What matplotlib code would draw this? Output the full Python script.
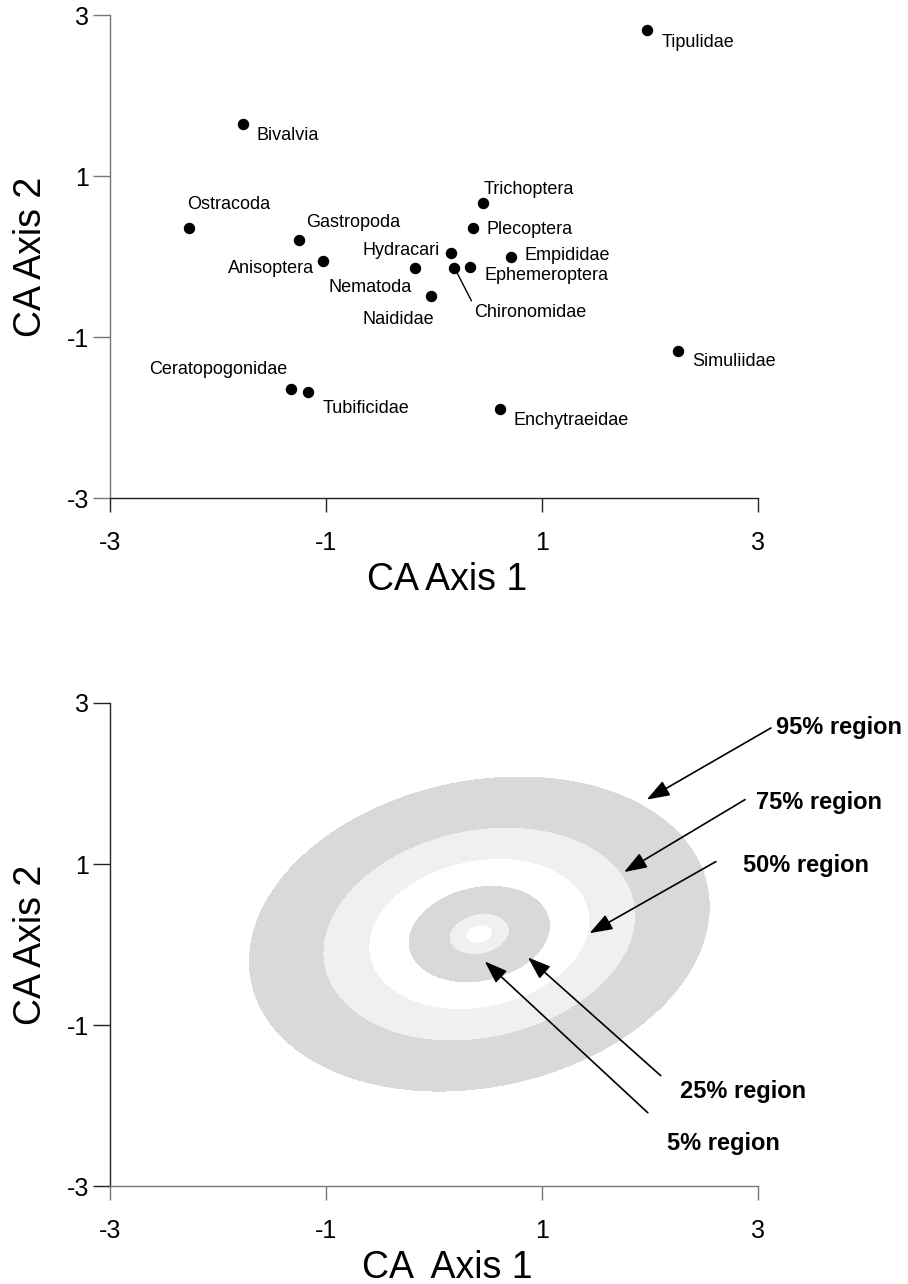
import matplotlib
matplotlib.use("Agg")
import matplotlib.pyplot as plt
import numpy as np

plt.rcParams["font.family"] = ["Liberation Sans", "DejaVu Sans"]
plt.rcParams["axes.unicode_minus"] = False

# taxon scores on the first two CA axes
taxa = ["Tipulidae", "Bivalvia", "Ostracoda", "Gastropoda", "Anisoptera",
        "Hydracari", "Nematoda", "Naididae", "Trichoptera", "Plecoptera",
        "Empididae", "Ephemeroptera", "Chironomidae", "Ceratopogonidae",
        "Tubificidae", "Enchytraeidae", "Simuliidae"]
axis1 = [1.97, -1.77, -2.27, -1.25, -1.03, 0.16, -0.18, -0.03, 0.45, 0.36,
         0.71, 0.33, 0.19, -1.32, -1.17, 0.61, 2.26]
axis2 = [2.81, 1.65, 0.35, 0.21, -0.05, 0.05, -0.14, -0.49, 0.66, 0.36,
         0.00, -0.13, -0.14, -1.65, -1.68, -1.89, -1.17]

ticks = [-3, -1, 1, 3]
tick_labels = ["-3", "-1", "1", "3"]

# bivariate normal used for the nested probability regions
centre = [0.42, 0.13]
cov = [[0.756, 0.1205], [0.1205, 0.635]]
coverage = [0.01, 0.05, 0.25, 0.50, 0.75, 0.95]

region_names = ["95% region", "75% region", "50% region", "25% region", "5% region"]
region_text_x = [3.17, 2.98, 2.86, 2.28, 2.16]
region_text_y = [2.69, 1.77, 0.98, -1.82, -2.47]
arrow_tail_x = [3.12, 2.88, 2.61, 2.10, 1.98]
arrow_tail_y = [2.69, 1.80, 1.03, -1.63, -2.09]
arrow_tip_x = [1.97, 1.76, 1.44, 0.87, 0.47]
arrow_tip_y = [1.80, 0.90, 0.14, -0.16, -0.21]

# label offsets in points and alignment
label_style = {
    "Tipulidae": (10.8, -8.6, "left"),
    "Bivalvia": (9.6, -8.6, "left"),
    "Ostracoda": (-1.2, 17.1, "left"),
    "Gastropoda": (5.3, 12.0, "left"),
    "Anisoptera": (-6.0, -5.5, "right"),
    "Hydracari": (-8.4, 1.7, "right"),
    "Nematoda": (-1.7, -13.9, "right"),
    "Naididae": (2.7, -16.8, "right"),
    "Trichoptera": (0.9, 10.3, "left"),
    "Plecoptera": (9.9, -1.2, "left"),
    "Empididae": (10.3, 0.7, "left"),
    "Ephemeroptera": (10.6, -6.0, "left"),
    "Chironomidae": (14.2, -31.9, "left"),
    "Ceratopogonidae": (-2.9, 14.6, "right"),
    "Tubificidae": (11.0, -11.7, "left"),
    "Enchytraeidae": (10.1, -8.6, "left"),
    "Simuliidae": (10.3, -8.1, "left"),
}


def style_axes(ax, left_col, bottom_col, xlabel):
    ax.set_xlim(-3, 3)
    ax.set_ylim(-3, 3)
    ax.spines["top"].set_visible(False)
    ax.spines["right"].set_visible(False)
    ax.spines["left"].set_color(left_col)
    ax.spines["bottom"].set_color(bottom_col)
    ax.spines["left"].set_linewidth(1.0)
    ax.spines["bottom"].set_linewidth(1.0)
    ax.set_xticks(ticks, tick_labels)
    ax.set_yticks(ticks, tick_labels)
    ax.tick_params(axis="x", length=10, width=1.0, pad=14, labelsize=18, color=bottom_col)
    ax.tick_params(axis="y", length=12, width=1.0, pad=3, labelsize=18, color=left_col)
    ax.set_xlabel(xlabel, fontsize=27)
    ax.set_ylabel("CA Axis 2", fontsize=27)
    ax.xaxis.set_label_coords(0.52, -0.133)
    ax.yaxis.set_label_coords(-0.094, 0.5)


fig = plt.figure(figsize=(9.08, 12.84), dpi=100)

# ---- top: ordination of taxa
ax1 = fig.add_axes([0.1211, 0.6121, 0.7137, 0.3762])
ax1.scatter(axis1, axis2, s=52, color="black", zorder=3, clip_on=False)
for name, x, y in zip(taxa, axis1, axis2):
    dx, dy, ha = label_style[name]
    if name == "Chironomidae":
        ax1.annotate(name, (x, y), xytext=(dx, dy), textcoords="offset points",
                     ha=ha, va="center", fontsize=13,
                     arrowprops=dict(arrowstyle="-", color="black", lw=1.0,
                                     relpos=(0.0, 0.85), shrinkA=0, shrinkB=2))
    else:
        ax1.annotate(name, (x, y), xytext=(dx, dy), textcoords="offset points",
                     ha=ha, va="center", fontsize=13)
style_axes(ax1, "#777777", "#222222", "CA Axis 1")

# ---- bottom: nested probability regions
ax2 = fig.add_axes([0.1211, 0.0763, 0.7137, 0.3762])
gx = np.linspace(-3, 3, 700)
X, Y = np.meshgrid(gx, gx)
inv = np.linalg.inv(np.array(cov))
dxg = X - centre[0]
dyg = Y - centre[1]
d2 = inv[0, 0] * dxg ** 2 + 2 * inv[0, 1] * dxg * dyg + inv[1, 1] * dyg ** 2
prob = 1 - np.exp(-d2 / 2)
ax2.contourf(X, Y, prob, levels=[0] + coverage,
             colors=["white", "#f0f0f0", "#d9d9d9", "white", "#f0f0f0", "#d9d9d9"],
             zorder=1)

for i, name in enumerate(region_names):
    ax2.annotate("", xy=(arrow_tip_x[i], arrow_tip_y[i]),
                 xytext=(arrow_tail_x[i], arrow_tail_y[i]),
                 arrowprops=dict(arrowstyle="-|>,head_length=0.7,head_width=0.25",
                                 mutation_scale=20, color="black", lw=1.2,
                                 shrinkA=0, shrinkB=0),
                 annotation_clip=False, zorder=4)
    ax2.text(region_text_x[i], region_text_y[i], name, ha="left", va="center",
             fontsize=17, fontweight="bold", clip_on=False)

style_axes(ax2, "#222222", "#777777", "CA  Axis 1")

fig.savefig("out.png", dpi=100)
